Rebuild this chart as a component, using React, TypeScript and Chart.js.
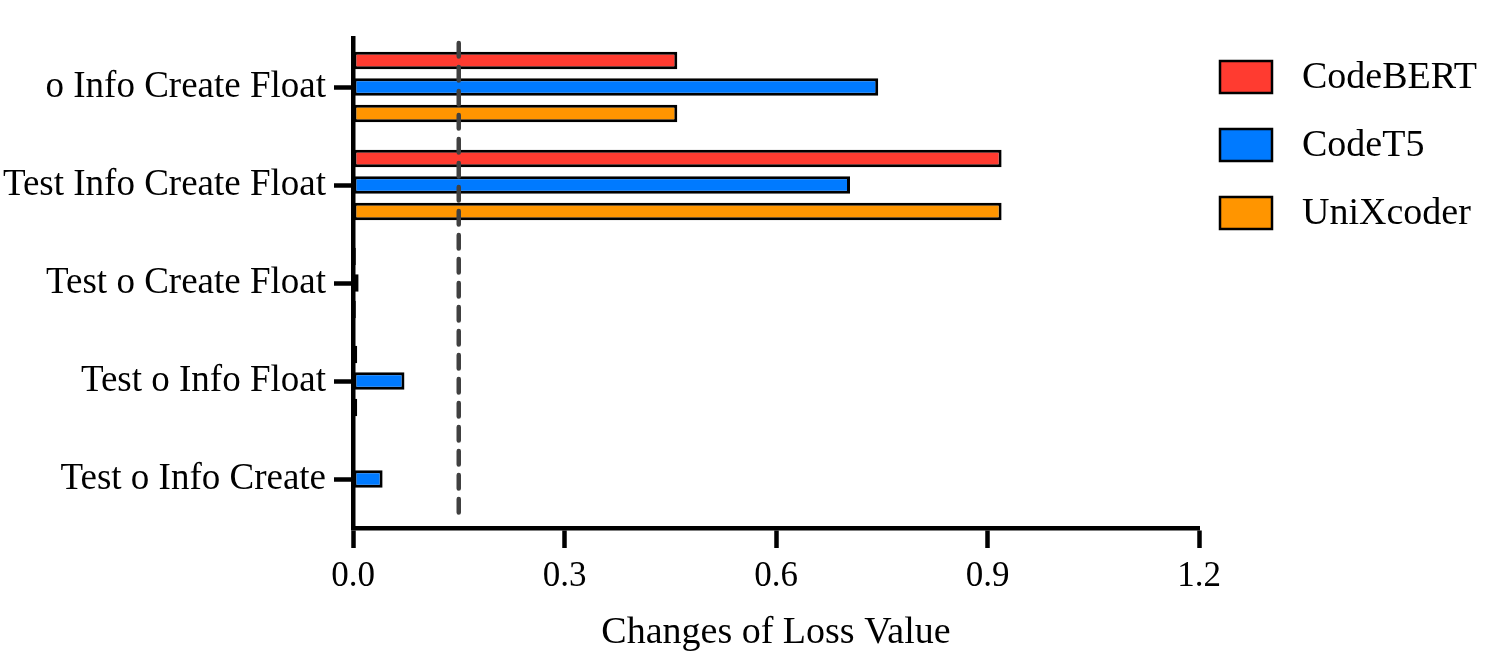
import React, { useEffect, useRef } from 'react';
import { Chart, registerables } from 'chart.js';

Chart.register(...registerables);

const categories = [
  'o Info Create Float',
  'Test Info Create Float',
  'Test o Create Float',
  'Test o Info Float',
  'Test o Info Create',
];
const seriesNames = ['CodeBERT', 'CodeT5', 'UniXcoder'];
const codeBERT = [0.46, 0.92, 0.004, 0.006, 0];
const codeT5 = [0.745, 0.705, 0.008, 0.073, 0.042];
const uniXcoder = [0.46, 0.92, 0.004, 0.006, 0];
const xTicks = [0, 0.3, 0.6, 0.9, 1.2];
const threshold = 0.15;
const xTitle = 'Changes of Loss Value';

const colors = ['#FF3B30', '#007AFF', '#FF9500'];
const FONT = "'Liberation Serif', 'Times New Roman', serif";

const thresholdPlugin = {
  id: 'thresholdLine',
  afterDatasetsDraw(chart: any) {
    const { ctx, chartArea, scales } = chart;
    const x = scales.x.getPixelForValue(threshold);
    ctx.save();
    ctx.strokeStyle = '#404040';
    ctx.lineWidth = 4.5;
    ctx.lineCap = 'round';
    ctx.setLineDash([13.5, 10.5]);
    ctx.beginPath();
    ctx.moveTo(x, chartArea.top + 5);
    ctx.lineTo(x, chartArea.bottom - 10);
    ctx.stroke();
    ctx.restore();
  },
};

const legendPlugin = {
  id: 'customLegend',
  afterDraw(chart: any) {
    const { ctx } = chart;
    const boxX = 1220;
    const boxW = 52;
    const boxH = 32;
    const textX = 1302;
    const firstY = 77;
    const step = 68;
    ctx.save();
    chart.data.datasets.forEach((ds: any, i: number) => {
      const cy = firstY + i * step;
      ctx.fillStyle = ds.backgroundColor;
      ctx.fillRect(boxX, cy - boxH / 2, boxW, boxH);
      ctx.lineWidth = 2.5;
      ctx.strokeStyle = '#000';
      ctx.strokeRect(boxX, cy - boxH / 2, boxW, boxH);
      ctx.fillStyle = '#000';
      ctx.font = `38px ${FONT}`;
      ctx.textAlign = 'left';
      ctx.textBaseline = 'middle';
      ctx.fillText(ds.label, textX, cy + 1);
    });
    ctx.restore();
  },
};

export default function App() {
  const ref = useRef<HTMLCanvasElement | null>(null);

  useEffect(() => {
    document.body.style.margin = '0';
    const canvas = ref.current;
    if (!canvas) return;
    const seriesData = [codeBERT, codeT5, uniXcoder];
    const chart = new Chart(canvas, {
      type: 'bar',
      data: {
        labels: categories,
        datasets: seriesNames.map((name, i) => ({
          label: name,
          data: seriesData[i],
          backgroundColor: colors[i],
          borderColor: '#000000',
          borderWidth: 3,
          borderSkipped: false,
          barPercentage: 0.66,
          categoryPercentage: 0.814,
        })),
      },
      options: {
        indexAxis: 'y',
        animation: false,
        responsive: false,
        devicePixelRatio: 1,
        layout: { padding: { top: 38, right: 296, bottom: 0, left: 0 } },
        plugins: {
          legend: { display: false },
          tooltip: { enabled: false },
        },
        scales: {
          x: {
            type: 'linear',
            position: 'bottom',
            min: 0,
            max: 1.2,
            afterBuildTicks: (scale: any) => {
              scale.ticks = xTicks.map((v) => ({ value: v }));
            },
            afterFit: (scale: any) => {
              scale.height = 142;
            },
            ticks: {
              callback: (v: any) => Number(v).toFixed(1),
              font: { size: 35, family: FONT },
              color: '#000',
              padding: 8,
              maxRotation: 0,
            },
            grid: {
              drawOnChartArea: false,
              drawTicks: true,
              tickLength: 20,
              tickWidth: 4.5,
              tickColor: '#000',
            },
            border: { display: true, color: '#000', width: 4.5 },
            title: {
              display: true,
              text: xTitle,
              font: { size: 38, family: FONT },
              color: '#000',
              padding: { top: 0, bottom: 14 },
            },
          },
          y: {
            type: 'category',
            position: 'left',
            offset: true,
            afterFit: (scale: any) => {
              scale.width = 353;
            },
            ticks: {
              font: { size: 37, family: FONT },
              color: '#000',
              padding: 8,
              autoSkip: false,
            },
            grid: {
              offset: false,
              drawOnChartArea: false,
              drawTicks: true,
              tickLength: 19,
              tickWidth: 4.5,
              tickColor: '#000',
            },
            border: { display: true, color: '#000', width: 4.5 },
          },
        },
      },
      plugins: [thresholdPlugin, legendPlugin],
    } as any);
    return () => chart.destroy();
  }, []);

  return (
    <div style={{ width: 1495, height: 670, position: 'absolute', left: 0, top: 0, background: '#fff' }}>
      <canvas ref={ref} width={1495} height={670} style={{ display: 'block' }} />
    </div>
  );
}
